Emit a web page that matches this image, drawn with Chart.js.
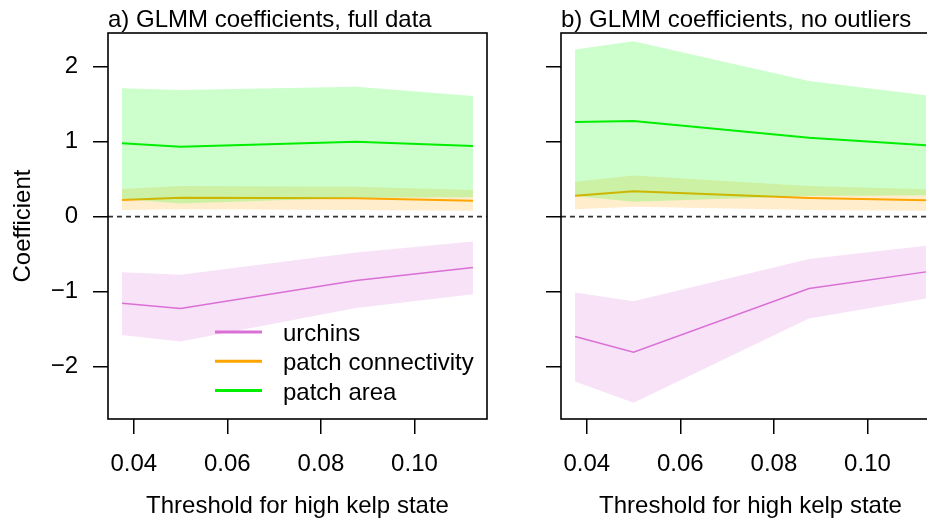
<!DOCTYPE html>
<html lang="en">
<head>
  <meta charset="UTF-8">
  <title>GLMM coefficients</title>
  <script src="https://cdn.jsdelivr.net/npm/chart.js"></script>
  <style>
    html, body { margin: 0; padding: 0; background: #fff; }
    #wrap { position: relative; width: 927px; height: 524px; overflow: hidden; background: #fff; }
    #wrap canvas { position: absolute; top: 0; }
    #panelA { left: 0; }
    #panelB { left: 500px; }
  </style>
</head>
<body>
<div id="wrap">
  <canvas id="panelA" width="500" height="524"></canvas>
  <canvas id="panelB" width="453" height="524"></canvas>
</div>
<script>
  // thresholds used for the high kelp state
  const thresholds = [0.0375, 0.05, 0.0875, 0.1125];
  const xTicks = [0.04, 0.06, 0.08, 0.10];
  const yTicks = [-2, -1, 0, 1, 2];
  const seriesNames = ["urchins", "patch connectivity", "patch area"];

  // a) full data
  const urchinA    = [-1.155, -1.226, -0.853, -0.680];
  const urchinA_lo = [-1.580, -1.667, -1.220, -1.035];
  const urchinA_hi = [-0.742, -0.777, -0.480, -0.333];
  const connA      = [0.222, 0.253, 0.245, 0.213];
  const connA_lo   = [0.089, 0.100, 0.090, 0.080];
  const connA_hi   = [0.370, 0.410, 0.400, 0.356];
  const areaA      = [0.979, 0.933, 1.000, 0.943];
  const areaA_lo   = [0.236, 0.174, 0.253, 0.260];
  const areaA_hi   = [1.712, 1.689, 1.733, 1.609];

  // b) no outliers
  const urchinB    = [-1.600, -1.810, -0.960, -0.737];
  const urchinB_lo = [-2.200, -2.484, -1.360, -1.093];
  const urchinB_hi = [-1.013, -1.130, -0.564, -0.387];
  const connB      = [0.280, 0.339, 0.249, 0.218];
  const connB_lo   = [0.098, 0.133, 0.089, 0.080];
  const connB_hi   = [0.467, 0.550, 0.410, 0.365];
  const areaB      = [1.263, 1.276, 1.053, 0.952];
  const areaB_lo   = [0.276, 0.200, 0.276, 0.285];
  const areaB_hi   = [2.230, 2.340, 1.810, 1.620];

  const lineColors = ["#da70d6", "#ffa500", "#00ee00"];
  const bandColors = ["rgba(218,112,214,0.2)", "rgba(255,165,0,0.2)", "rgba(0,255,0,0.2)"];
  const lineWidths = [1.5, 2, 2];

  const xMin = 0.0345, xMax = 0.1155;
  const yMin = -2.70, yMax = 2.45;

  const FONT = '"Liberation Sans", Arial, sans-serif';
  Chart.defaults.font.family = FONT;
  Chart.defaults.font.size = 24;
  Chart.defaults.color = '#000';

  function pts(ys) {
    return thresholds.map((x, i) => ({ x: x, y: ys[i] }));
  }

  // each series: lower bound, upper bound filled down to it, then the estimate line
  function buildDatasets(list) {
    const sets = [];
    list.forEach((s, k) => {
      const base = sets.length;
      const ord = (list.length - k) * 3;
      sets.push({ label: seriesNames[k] + ' lo', data: pts(s[1]), borderColor: 'transparent',
                  borderWidth: 0, pointRadius: 0, fill: false, order: ord + 2 });
      sets.push({ label: seriesNames[k] + ' hi', data: pts(s[2]), borderColor: 'transparent',
                  borderWidth: 0, pointRadius: 0, fill: base, backgroundColor: bandColors[k], order: ord + 1 });
      sets.push({ label: seriesNames[k], data: pts(s[0]), borderColor: lineColors[k],
                  borderWidth: lineWidths[k], pointRadius: 0, fill: false, order: ord });
    });
    return sets;
  }

  const framePlugin = {
    id: 'frame',
    afterDraw(chart, args, opts) {
      const { ctx, chartArea: a } = chart;
      const y0 = chart.scales.y.getPixelForValue(0);
      ctx.save();
      // dashed zero line
      ctx.setLineDash([5, 4]);
      ctx.strokeStyle = '#333';
      ctx.lineWidth = 1.6;
      ctx.beginPath();
      ctx.moveTo(a.left, y0);
      ctx.lineTo(a.right, y0);
      ctx.stroke();
      ctx.setLineDash([]);
      // box
      ctx.strokeStyle = '#000';
      ctx.lineWidth = 1.6;
      ctx.strokeRect(a.left, a.top, a.right - a.left, a.bottom - a.top);
      // panel title
      ctx.fillStyle = '#000';
      ctx.font = '24px ' + FONT;
      ctx.textAlign = 'left';
      ctx.textBaseline = 'alphabetic';
      ctx.fillText(opts.text, a.left, 27);
      // legend
      if (opts.legend) {
        seriesNames.forEach((name, i) => {
          const ly = a.top + 299 + i * 29.3;
          ctx.strokeStyle = lineColors[i];
          ctx.lineWidth = 3;
          ctx.beginPath();
          ctx.moveTo(a.left + 107, ly);
          ctx.lineTo(a.left + 154, ly);
          ctx.stroke();
          ctx.fillText(name, a.left + 175, ly + 9);
        });
      }
      ctx.restore();
    }
  };

  function makeOptions(title, yWidth, showYLabels, legend) {
    return {
      responsive: false,
      animation: false,
      events: [],
      layout: { padding: { top: 33, right: 13, left: 0, bottom: 0 } },
      plugins: {
        legend: { display: false },
        tooltip: { enabled: false },
        frame: { text: title, legend: legend }
      },
      scales: {
        x: {
          type: 'linear',
          min: xMin,
          max: xMax,
          afterBuildTicks: s => { s.ticks = xTicks.map(v => ({ value: v })); },
          afterFit: s => { s.height = 105; },
          grid: { drawOnChartArea: false, drawTicks: true, tickLength: 15, color: '#000', lineWidth: 1.5 },
          border: { display: false },
          ticks: { padding: 16, maxRotation: 0, autoSkip: false, callback: v => v.toFixed(2) },
          title: { display: true, text: 'Threshold for high kelp state', padding: { top: 0, bottom: 3 } }
        },
        y: {
          type: 'linear',
          min: yMin,
          max: yMax,
          afterBuildTicks: s => { s.ticks = yTicks.map(v => ({ value: v })); },
          afterFit: s => { s.width = yWidth; },
          grid: { drawOnChartArea: false, drawTicks: true, tickLength: 15, color: '#000', lineWidth: 1.5 },
          border: { display: false },
          ticks: {
            padding: 15,
            autoSkip: false,
            callback: v => showYLabels ? (v < 0 ? '\u2212' + Math.abs(v) : String(v)) : ''
          },
          title: { display: showYLabels, text: 'Coefficient', padding: { top: 9, bottom: 0 } }
        }
      }
    };
  }

  new Chart(document.getElementById('panelA'), {
    type: 'line',
    data: { datasets: buildDatasets([
      [urchinA, urchinA_lo, urchinA_hi],
      [connA, connA_lo, connA_hi],
      [areaA, areaA_lo, areaA_hi]
    ]) },
    options: makeOptions('a) GLMM coefficients, full data', 108, true, true),
    plugins: [framePlugin]
  });

  new Chart(document.getElementById('panelB'), {
    type: 'line',
    data: { datasets: buildDatasets([
      [urchinB, urchinB_lo, urchinB_hi],
      [connB, connB_lo, connB_hi],
      [areaB, areaB_lo, areaB_hi]
    ]) },
    options: makeOptions('b) GLMM coefficients, no outliers', 61, false, false),
    plugins: [framePlugin]
  });
</script>
</body>
</html>
